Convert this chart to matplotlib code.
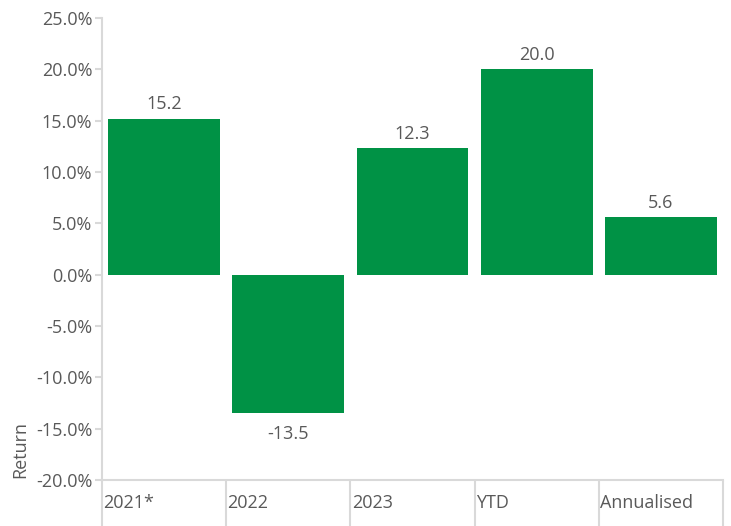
import numpy as np
import matplotlib.pyplot as plt
from matplotlib.transforms import blended_transform_factory

plt.rcParams['font.family'] = ['Open Sans', 'DejaVu Sans']

# data
categories = ['2021*', '2022', '2023', 'YTD', 'Annualised']
returns = [15.2, -13.5, 12.3, 20.0, 5.6]

green = '#009245'
grey_text = '#595959'
grey_line = '#d9d9d9'
fs = 13

fig = plt.figure(figsize=(7.31, 5.26), dpi=100)
ax = fig.add_axes([102 / 731, 1 - 480 / 526, 621 / 731, 462 / 526])

x = np.arange(len(categories))
bars = ax.bar(x, returns, width=0.9, color=green)

for xi, v in zip(x, returns):
    if v >= 0:
        ax.text(xi, v + 0.5, f'{v:.1f}', ha='center', va='bottom', fontsize=fs, color=grey_text)
    else:
        ax.text(xi, v - 1.1, f'{v:.1f}', ha='center', va='top', fontsize=fs, color=grey_text)

ax.set_xlim(-0.5, len(categories) - 0.5)
ax.set_ylim(-20, 25)
ax.set_yticks(np.arange(-20, 26, 5))
ax.set_yticklabels([f'{t:.1f}%' for t in np.arange(-20, 26, 5)])

for s in ['top', 'right']:
    ax.spines[s].set_visible(False)
for s in ['left', 'bottom']:
    ax.spines[s].set_color(grey_line)
    ax.spines[s].set_linewidth(1.5)

ax.tick_params(axis='y', colors=grey_line, labelcolor=grey_text, labelsize=fs, length=5, width=1.5, pad=2)

# category separators and left-aligned labels
ax.set_xticks(np.arange(-0.5, len(categories) + 0.5, 1))
ax.set_xticklabels([])
ax.tick_params(axis='x', colors=grey_line, length=34, width=1.5, direction='out')
trans = blended_transform_factory(ax.transData, ax.transAxes)
for xi, lab in zip(x, categories):
    ax.text(xi - 0.49, -0.03, lab, transform=trans, ha='left', va='top', fontsize=fs, color=grey_text)

fig.text(20 / 731, 1 - 450 / 526, 'Return', rotation=90, ha='center', va='center', fontsize=fs, color=grey_text)

fig.savefig('out.png', dpi=100)
